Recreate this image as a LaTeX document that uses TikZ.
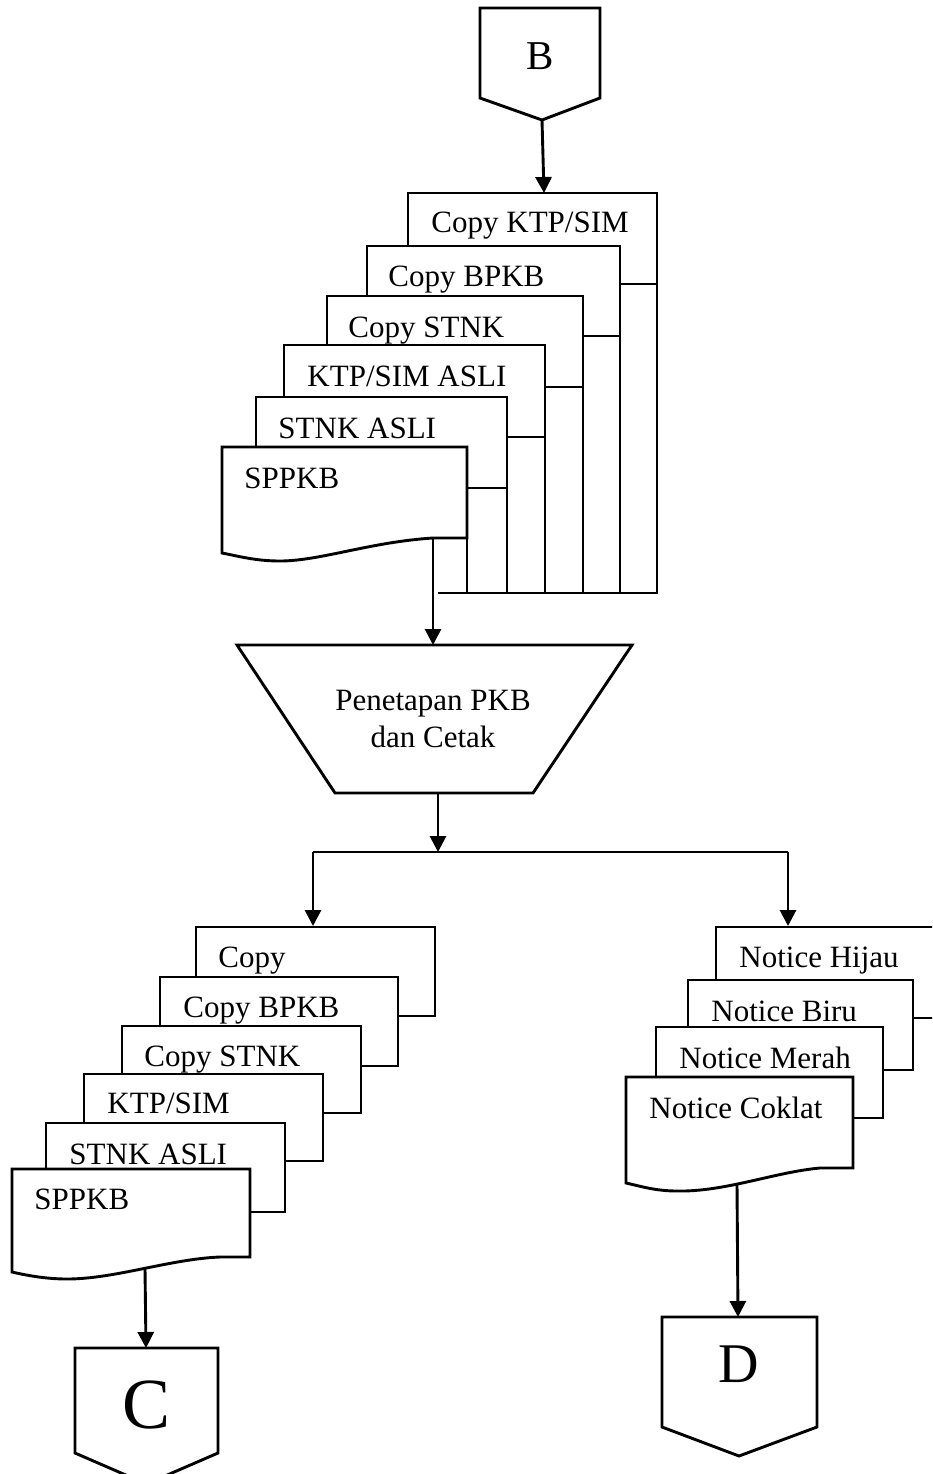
\documentclass[tikz,border=0pt]{standalone}
\usepackage{fontspec}
\setmainfont{Liberation Serif}
\usetikzlibrary{arrows.meta}

\begin{document}
\begin{tikzpicture}[x=1pt, y=-1pt, line width=2.9pt,
  box/.style={draw, fill=white},
  arr/.style={-{Triangle[width=16pt,length=16pt]}},
  lbl/.style={anchor=base west, inner sep=0pt, font=\fontsize{31}{37}\selectfont},
  letter/.style={anchor=base, inner sep=0pt},
]
\useasboundingbox (0,0) rectangle (932,1474);
\clip (0,0) rectangle (932,1474);

% ---------- off-page connector B ----------
\draw (480,8) -- (600,8) -- (600,98) -- (542,120) -- (480,98) -- cycle;
\coordinate (Bout) at (542,120);
\node[letter, font=\fontsize{41}{41}\selectfont] (B) at (540,70) {B};

% ---------- incoming documents (back to front) ----------
\draw[box] (408,193) rectangle (657,284);
\draw[box] (367,246) rectangle (620,336);
\draw[box] (327,296) rectangle (583,387);
\draw[box] (284,345) rectangle (545,437);
\draw[box] (256,397) rectangle (507,488);
\draw[box] (222,447) -- (467,447) -- (467,538) -- (433,538)
  .. controls (370,542) and (320,561) .. (280,561)
  .. controls (255,561) and (238,556) .. (222,553) -- cycle;
\coordinate (inTop) at (544,193);
\coordinate (inOut) at (433,538);

\node[lbl] (t1) at (430,233) {Copy KTP/SIM};
\node[lbl] (t2) at (387,286) {Copy BPKB};
\node[lbl] (t3) at (347,337) {Copy STNK};
\node[lbl] (t4) at (306,386) {KTP/SIM ASLI};
\node[lbl] (t5) at (277,438) {STNK ASLI};
\node[lbl] (t6) at (243,488) {SPPKB};

% right edges carried down to the collecting line
\coordinate (bus1) at (438,593);
\coordinate (bus2) at (658.45,593);
\draw (657,284) -- (657,594.45);
\draw (620,336) -- (620,594.45);
\draw (583,387) -- (583,594.45);
\draw (545,437) -- (545,594.45);
\draw (507,488) -- (507,594.45);
\draw (467,538) -- (467,594.45);
\draw (bus1) -- (bus2);

\draw[arr] (Bout) -- (inTop);

% ---------- manual operation ----------
\draw (237,645) -- (632,645) -- (533,793) -- (335,793) -- cycle;
\coordinate (opTop) at (433,645);
\coordinate (opOut) at (438,793);
\node[inner sep=0pt, align=center, font=\fontsize{31}{37}\selectfont] (op) at (433,719)
  {Penetapan PKB\\dan Cetak};
\draw[arr] (inOut) -- (opTop);

% ---------- split ----------
\coordinate (split) at (438,852);
\coordinate (splitL) at (313,852);
\coordinate (splitR) at (788,852);
\coordinate (leftTop) at (313,926);
\coordinate (rightTop) at (788,926);
\draw[arr] (opOut) -- (split);
\draw (splitL) -- (splitR);
\draw[arr] (splitL) -- (leftTop);
\draw[arr] (splitR) -- (rightTop);

% ---------- returned documents ----------
\draw[box] (196,927) rectangle (435,1016);
\draw[box] (160,977) rectangle (398,1066);
\draw[box] (122,1026) rectangle (361,1113);
\draw[box] (84,1074) rectangle (323,1161);
\draw[box] (46,1123) rectangle (285,1212);
\draw[box] (12,1169) -- (250,1169) -- (250,1257) -- (220,1257)
  .. controls (170,1259) and (115,1279) .. (67,1279)
  .. controls (45,1279) and (25,1275) .. (12,1272) -- cycle;
\coordinate (leftOut) at (145,1268);

\node[lbl] (l1) at (217,967) {Copy};
\node[lbl] (l2) at (182,1017) {Copy BPKB};
\node[lbl] (l3) at (143,1066) {Copy STNK};
\node[lbl] (l4) at (106,1113) {KTP/SIM};
\node[lbl] (l5) at (68,1164) {STNK ASLI};
\node[lbl] (l6) at (33,1209) {SPPKB};

% ---------- off-page connector C ----------
\draw (75,1348) -- (218,1348) -- (218,1453) -- (146.5,1484) -- (75,1453) -- cycle;
\coordinate (Cin) at (146,1348);
\node[letter, font=\fontsize{72}{72}\selectfont] (C) at (147,1428) {C};
\draw[arr] (leftOut) -- (Cin);

% ---------- notices ----------
\draw[box] (716,927) rectangle (960,1018);
\draw[box] (688,980) rectangle (913,1070);
\draw[box] (656,1027) rectangle (883,1118);
\draw[box] (626,1077) -- (853,1077) -- (853,1168) -- (820,1168)
  .. controls (775,1172) and (725,1192) .. (677,1191)
  .. controls (655,1191) and (640,1186) .. (626,1183) -- cycle;
\coordinate (rightOut) at (737,1184);

\node[lbl] (r1) at (738,967) {Notice Hijau};
\node[lbl] (r2) at (710,1021) {Notice Biru};
\node[lbl] (r3) at (678,1068) {Notice Merah};
\node[lbl] (r4) at (648,1118) {Notice Coklat};

% ---------- off-page connector D ----------
\draw (662,1317) -- (817,1317) -- (817,1427) -- (739,1456) -- (662,1427) -- cycle;
\coordinate (Din) at (738,1317);
\node[letter, font=\fontsize{56}{56}\selectfont] (D) at (739,1382) {D};
\draw[arr] (rightOut) -- (Din);
\end{tikzpicture}
\end{document}
